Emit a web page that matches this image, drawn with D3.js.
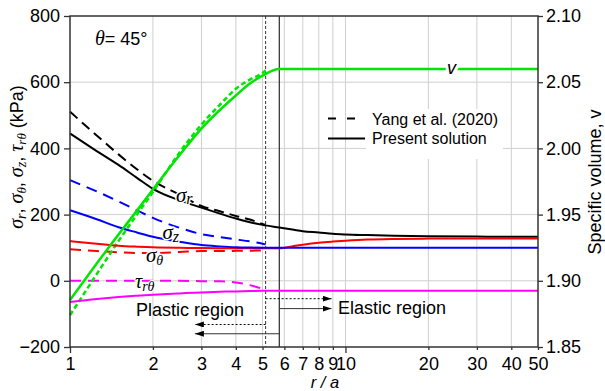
<!DOCTYPE html>
<html><head><meta charset="utf-8">
<script src="https://cdn.jsdelivr.net/npm/d3@7"></script>
<style>
body{margin:0;background:#fff;}
svg{display:block;}
text{font-family:"Liberation Sans",Arial,sans-serif;}
</style></head><body>
<svg id="chart" width="605" height="391"></svg>
<script>
// ---------------- data ----------------
const rPresent = [1,1.25,1.5,1.75,2,2.5,3,3.5,4,4.5,5,5.75,6.5,7,8,9,10,12,15,20,30,40,50];
const sigmaRPresent     = [445,392,350,311,278,243,221,203,188,177,169,161,154,150,146,142,140,138,136,134.5,133.5,133,133];
const sigmaThetaPresent = [120,112,106,103,101,99.5,99,98.5,98,98,98,98,105,109,115,118.5,121,124.5,126.5,127.5,128,128,128];
const sigmaZPresent     = [213,186,162,146,133,118,108,104,101.5,100.5,100,100,100,100,100,100,100,100,100,100,100,100,100];
const tauPresent        = [-64,-55,-49,-45,-42,-38,-35,-33,-32,-31,-30,-30,-30,-30,-30,-30,-30,-30,-30,-30,-30,-30,-30];
const vPresent          = [1.8855,1.913,1.935,1.953,1.969,1.995,2.015,2.029,2.040,2.049,2.055,2.060,2.060,2.060,2.060,2.060,2.060,2.060,2.060,2.060,2.060,2.060,2.060];

const rYang = [1,1.25,1.5,1.75,2,2.5,3,3.5,4,4.5,5,5.13];
const sigmaRYang     = [511,439,382,337,302,260,226,210,196,185,172,169];
const sigmaThetaYang = [95,90,86,84,84,87,90,90,90.5,91,92,93];
const sigmaZYang     = [304,270,240,213,190,160,141,132,125,119,112,110];
const tauYang        = [0,0,0,0,0,0,-1,-1.5,-5,-13,-25,-29];
const vYang          = [1.874,1.905,1.930,1.950,1.967,1.997,2.018,2.033,2.045,2.052,2.057,2.059];

const plasticRadiusYang = 5.13;
const plasticRadiusPresent = 5.75;

const xTicks = [1,2,3,4,5,6,7,8,9,10,20,30,40,50];
const xGrid = [2,3,4,5,6,7,8,9,10,20,30,40];
const yLeftTicks = [-200,0,200,400,600,800];
const yGrid = [0,200,400,600];
const yRightTicks = [1.85,1.90,1.95,2.00,2.05,2.10];

// ---------------- layout ----------------
const svg = d3.select("#chart");
const L = 70, R = 538, T = 16, B = 347;
const x = d3.scaleLog().domain([1,50]).range([L,R]);
const yL = d3.scaleLinear().domain([-200,800]).range([B,T]);
const yR = d3.scaleLinear().domain([1.85,2.10]).range([B,T]);

const defs = svg.append("defs");
defs.append("marker").attr("id","ah").attr("markerUnits","userSpaceOnUse")
  .attr("markerWidth",9).attr("markerHeight",6).attr("refX",9).attr("refY",3)
  .attr("orient","auto").append("path").attr("d","M0,0L9,3L0,6Z").attr("fill","#000");

// grid
const g = svg.append("g");
g.selectAll(".vg").data(xGrid).enter().append("line")
  .attr("x1",d=>x(d)).attr("x2",d=>x(d)).attr("y1",T).attr("y2",B)
  .attr("stroke","#cfcfcf").attr("stroke-width",1);
g.selectAll(".hg").data(yGrid).enter().append("line")
  .attr("x1",L).attr("x2",R).attr("y1",d=>yL(d)).attr("y2",d=>yL(d))
  .attr("stroke","#cfcfcf").attr("stroke-width",1);

// legend white background
svg.append("rect").attr("x",366).attr("y",109).attr("width",137).attr("height",50).attr("fill","#fff");

// boundary lines
svg.append("line").attr("x1",x(plasticRadiusYang)).attr("x2",x(plasticRadiusYang)).attr("y1",T).attr("y2",B)
  .attr("stroke","#333").attr("stroke-width",1).attr("stroke-dasharray","3,2");
svg.append("line").attr("x1",x(plasticRadiusPresent)).attr("x2",x(plasticRadiusPresent)).attr("y1",T).attr("y2",B)
  .attr("stroke","#000").attr("stroke-width",1);

// curves
function drawCurve(rs, vals, yScale, color, width, dash){
  const pts = rs.map((r,i)=>[r,vals[i]]);
  const line = d3.line().x(d=>x(d[0])).y(d=>yScale(d[1])).curve(d3.curveMonotoneX);
  const p = svg.append("path").datum(pts).attr("d",line).attr("fill","none")
    .attr("stroke",color).attr("stroke-width",width);
  if(dash) p.attr("stroke-dasharray",dash);
}
const GREEN = "#00e600";
drawCurve(rYang, sigmaRYang, yL, "#000", 2, "10,6");
drawCurve(rYang, sigmaZYang, yL, "#0000ff", 2, "11,7");
drawCurve(rYang, sigmaThetaYang, yL, "#ff0000", 2, "11,7");
drawCurve(rYang, tauYang, yL, "#ff00ff", 2, "11,7");
drawCurve(rYang, vYang, yR, GREEN, 2.5, "5,3");

drawCurve(rPresent, sigmaRPresent, yL, "#000", 2);
drawCurve(rPresent, sigmaThetaPresent, yL, "#ff0000", 2);
drawCurve(rPresent, sigmaZPresent, yL, "#0000ff", 2);
drawCurve(rPresent, tauPresent, yL, "#ff00ff", 2);
drawCurve(rPresent, vPresent, yR, GREEN, 2.5);

// rich text helper
function rich(sel, parts){
  let shift = 0;
  parts.forEach(p=>{
    const t = sel.append("tspan").text(p.t);
    if(p.serif) t.style("font-family","'Liberation Serif','Times New Roman',serif");
    if(p.italic) t.style("font-style","italic");
    if(p.size) t.style("font-size",p.size+"px");
    const target = p.sub ? p.sub : 0;
    if(target!==shift){ t.attr("dy", target-shift); shift = target; }
  });
  return sel;
}
function halo(sel, w){
  return sel.attr("stroke","#fff").attr("stroke-width",w).attr("paint-order","stroke").attr("stroke-linejoin","round");
}

// curve labels
rich(halo(svg.append("text").attr("x",176).attr("y",201.5).style("font-size","21px"),3),
  [{t:"σ",serif:true,italic:true},{t:"r",serif:true,italic:true,size:16,sub:2}]);
rich(halo(svg.append("text").attr("x",162.5).attr("y",238.5).style("font-size","21px"),3),
  [{t:"σ",serif:true,italic:true},{t:"z",serif:true,italic:true,size:16,sub:3}]);
rich(halo(svg.append("text").attr("x",146).attr("y",261.5).style("font-size","21px"),3),
  [{t:"σ",serif:true,italic:true},{t:"θ",serif:true,italic:true,size:14,sub:3}]);
rich(halo(svg.append("text").attr("x",135).attr("y",288).style("font-size","20px"),2),
  [{t:"τ",serif:true,italic:true},{t:"rθ",serif:true,italic:true,size:14,sub:3}]);
halo(svg.append("text").attr("x",447).attr("y",74).style("font-size","18px").style("font-style","italic").text("v"),6);

rich(svg.append("text").attr("x",95).attr("y",44.5).style("font-size","18px"),
  [{t:"θ",serif:true,italic:true,size:20},{t:"= 45°"}]);

// legend
svg.append("line").attr("x1",328).attr("x2",357).attr("y1",118.5).attr("y2",118.5)
  .attr("stroke","#000").attr("stroke-width",2).attr("stroke-dasharray","8,11");
svg.append("line").attr("x1",328).attr("x2",365).attr("y1",138.5).attr("y2",138.5)
  .attr("stroke","#000").attr("stroke-width",2);
svg.append("text").attr("x",372).attr("y",124.5).style("font-size","16px").text("Yang et al. (2020)");
svg.append("text").attr("x",372).attr("y",144).style("font-size","16px").text("Present solution");

// region arrows
function arrow(r1, r2, v, dash, color){
  const l = svg.append("line").attr("x1",x(r1)).attr("x2",x(r2)).attr("y1",yL(v)).attr("y2",yL(v))
    .attr("stroke",color).attr("stroke-width",1).attr("marker-end","url(#ah)");
  if(dash) l.attr("stroke-dasharray",dash);
}
arrow(plasticRadiusYang, 8.9, -54, "2,2", "#000");
arrow(plasticRadiusPresent, 8.9, -84, null, "#333");
arrow(plasticRadiusYang, 2.84, -132, "2,2", "#000");
arrow(plasticRadiusPresent, 2.84, -160, null, "#333");
svg.append("text").attr("x",136).attr("y",316).style("font-size","18px").text("Plastic region");
svg.append("text").attr("x",338).attr("y",313.5).style("font-size","18px").text("Elastic region");

// axes
const ax = svg.append("g").attr("transform",`translate(0,${B})`)
  .call(d3.axisBottom(x).tickValues(xTicks).tickFormat(d3.format("d")).tickSize(6).tickPadding(4).tickSizeOuter(0));
const ay = svg.append("g").attr("transform",`translate(${L},0)`)
  .call(d3.axisLeft(yL).tickValues(yLeftTicks).tickSize(6).tickPadding(4).tickSizeOuter(0));
const ar = svg.append("g").attr("transform",`translate(${R},0)`)
  .call(d3.axisRight(yR).tickValues(yRightTicks).tickFormat(d3.format(".2f")).tickSize(5).tickPadding(3).tickSizeOuter(0));
[ax,ay,ar].forEach(a=>{
  a.select(".domain").remove();
  a.selectAll(".tick text").style("font-size","18px").style("font-family","'Liberation Sans',Arial,sans-serif").attr("fill","#000");
  a.selectAll(".tick line").attr("stroke","#333").attr("stroke-width",1.3);
});
ax.selectAll(".tick line").attr("y2",d=>(d===1||d===10)?6:3);
svg.append("rect").attr("x",L).attr("y",T).attr("width",R-L).attr("height",B-T)
  .attr("fill","none").attr("stroke","#333").attr("stroke-width",1.5);

// axis titles
rich(svg.append("text").attr("transform","translate(23,157) rotate(-90)").attr("text-anchor","middle").style("font-size","18px"),
  [{t:"σ",serif:true,italic:true,size:20},{t:"r",serif:true,italic:true,size:14,sub:3},{t:", "},
   {t:"σ",serif:true,italic:true,size:20},{t:"θ",serif:true,italic:true,size:13,sub:3},{t:", "},
   {t:"σ",serif:true,italic:true,size:20},{t:"z",serif:true,italic:true,size:14,sub:3},{t:", "},
   {t:"τ",serif:true,italic:true,size:20},{t:"rθ",serif:true,italic:true,size:13,sub:3},{t:" (kPa)"}]);
svg.append("text").attr("transform","translate(601,182) rotate(-90)").attr("text-anchor","middle")
  .style("font-size","18px").text("Specific volume, v");
svg.append("text").attr("x",325).attr("y",387.5).attr("text-anchor","middle")
  .style("font-size","16.5px").style("font-style","italic").text("r / a");
</script>
</body></html>
